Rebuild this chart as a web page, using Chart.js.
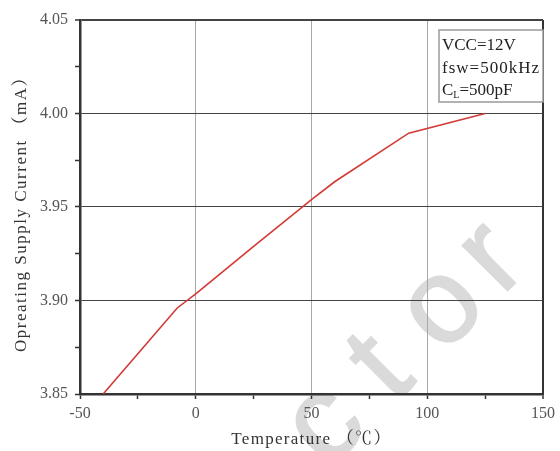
<!DOCTYPE html>
<html>
<head>
<meta charset="utf-8">
<script src="https://cdn.jsdelivr.net/npm/chart.js@4"></script>
<style>
  html, body { margin: 0; padding: 0; background: #fff; }
  #wrap { width: 560px; height: 451px; }
</style>
</head>
<body>
<div id="wrap"><canvas id="chart" width="560" height="451"></canvas></div>
<script>
// data
const temps = [-40, -8, 0, 25, 50, 60, 92, 125]
const current = [3.850, 3.896, 3.9035, 3.929, 3.954, 3.9635, 3.9895, 4.000]

const xTicks = [-50, 0, 50, 100, 150]
const yTicks = [3.85, 3.90, 3.95, 4.00, 4.05]

const xTitle = 'Temperature （℃）'
const yTitle = 'Opreating Supply Current （mA）'
const notes = ['VCC=12V', 'fsw=500kHz', 'C', 'L', '=500pF']
const watermark = ['c', 't', 'o', 'r']

const SERIF = "'Liberation Serif', 'Noto Serif CJK SC', 'Noto Sans CJK SC', serif"

const isMajor = (v, list) => list.some(t => Math.abs(t - v) < 1e-6)

const backdrop = {
  id: 'backdrop',
  beforeDraw(chart) {
    const ctx = chart.ctx
    ctx.save()
    ctx.fillStyle = '#fff'
    ctx.fillRect(0, 0, chart.width, chart.height)
    // faint watermark under the grid
    ctx.translate(327, 427)
    ctx.rotate(-Math.PI / 4)
    ctx.fillStyle = '#dadada'
    ctx.strokeStyle = '#dadada'
    ctx.lineWidth = 2
    ctx.font = "120px 'Liberation Sans', sans-serif"
    ctx.textAlign = 'center'
    ctx.textBaseline = 'alphabetic'
    const along = [0, 80, 166, 236]
    watermark.forEach((ch, i) => {
      ctx.fillText(ch, along[i], 31)
      ctx.strokeText(ch, along[i], 31)
    })
    ctx.restore()
  }
}

const labels = {
  id: 'labels',
  afterDraw(chart) {
    const ctx = chart.ctx
    const area = chart.chartArea
    ctx.save()
    ctx.fillStyle = '#333'
    ctx.textAlign = 'center'
    ctx.textBaseline = 'middle'
    ctx.font = '17px ' + SERIF
    ctx.letterSpacing = '1.3px'
    ctx.fillText(xTitle, (area.left + area.right) / 2, 440)

    ctx.save()
    ctx.translate(22, 210)
    ctx.rotate(-Math.PI / 2)
    ctx.letterSpacing = '1.5px'
    ctx.fillText(yTitle, 0, 0)
    ctx.restore()

    // conditions box
    const bx = 439, by = 30, bw = 104, bh = 72
    ctx.fillStyle = '#fff'
    ctx.fillRect(bx, by, bw, bh)
    ctx.strokeStyle = '#9a9a9a'
    ctx.lineWidth = 1.5
    ctx.strokeRect(bx, by, bw, bh)

    ctx.fillStyle = '#222'
    ctx.textAlign = 'left'
    ctx.textBaseline = 'alphabetic'
    ctx.font = '17px ' + SERIF
    ctx.letterSpacing = '0px'
    ctx.fillText(notes[0], 442, 50)
    ctx.letterSpacing = '1px'
    ctx.fillText(notes[1], 442, 73)
    ctx.letterSpacing = '0px'
    ctx.fillText(notes[2], 442, 95)
    let w = ctx.measureText(notes[2]).width
    ctx.font = '10px ' + SERIF
    ctx.fillText(notes[3], 442 + w, 98)
    const w2 = ctx.measureText(notes[3]).width
    ctx.font = '17px ' + SERIF
    ctx.fillText(notes[4], 442 + w + w2, 95)
    ctx.restore()
  }
}

new Chart(document.getElementById('chart'), {
  type: 'scatter',
  data: {
    datasets: [{
      data: temps.map((t, i) => ({ x: t, y: current[i] })),
      showLine: true,
      borderColor: '#d23a36',
      borderWidth: 1.6,
      pointRadius: 0,
      tension: 0
    }]
  },
  options: {
    responsive: false,
    animation: false,
    layout: { padding: { top: 20, right: 14, left: 0, bottom: 0 } },
    plugins: { legend: { display: false }, tooltip: { enabled: false } },
    scales: {
      x: {
        type: 'linear',
        min: -50,
        max: 150,
        afterFit: s => { s.height = 57 },
        ticks: {
          stepSize: 25,
          autoSkip: false,
          maxRotation: 0,
          padding: 5,
          color: '#555',
          font: { family: SERIF, size: 16 },
          callback: v => isMajor(v, xTicks) ? String(v) : ''
        },
        grid: {
          tickLength: 5,
          tickColor: '#333',
          tickWidth: 1.5,
          color: c => {
            const v = c.tick.value
            if (v === 150) return '#333'
            if (v === -50 || !isMajor(v, xTicks)) return 'rgba(0,0,0,0)'
            return '#a8a8a8'
          },
          lineWidth: c => c.tick.value === 150 ? 2 : 1
        },
        border: { color: '#333', width: 2.5 }
      },
      y: {
        min: 3.85,
        max: 4.05,
        afterFit: s => { s.width = 80 },
        ticks: {
          stepSize: 0.025,
          autoSkip: false,
          padding: 7,
          color: '#555',
          font: { family: SERIF, size: 16 },
          callback: v => isMajor(v, yTicks) ? v.toFixed(2) : ''
        },
        grid: {
          tickLength: 5,
          tickColor: '#333',
          tickWidth: 1.5,
          color: c => {
            const v = c.tick.value
            if (Math.abs(v - 3.85) < 1e-6 || !isMajor(v, yTicks)) return 'rgba(0,0,0,0)'
            return '#444'
          },
          lineWidth: c => Math.abs(c.tick.value - 4.05) < 1e-6 ? 2 : 1
        },
        border: { color: '#333', width: 2.5 }
      }
    }
  },
  plugins: [backdrop, labels]
})
</script>
</body>
</html>
